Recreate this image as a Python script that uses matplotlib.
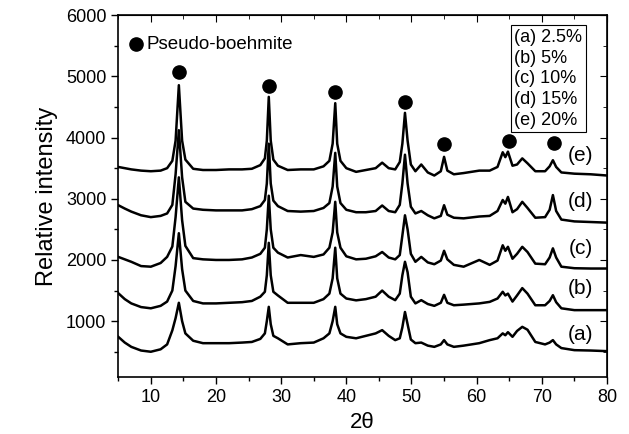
import matplotlib
matplotlib.use("Agg")
import matplotlib.pyplot as plt
from matplotlib.ticker import MultipleLocator

plt.rcParams['font.family'] = ['Liberation Sans', 'DejaVu Sans']

# 2theta sample points (shared by all five patterns)
two_theta = [5, 6, 7, 8.5, 10, 11.5, 12.5, 13.3, 13.8, 14.3, 14.8, 15.3, 16.5, 18, 20,
             22, 24, 25.5, 26.8, 27.5, 27.8, 28.1, 28.4, 28.8, 29.5, 31, 33, 35, 36.5,
             37.4, 37.9, 38.3, 38.6, 39.1, 40, 41.5, 43, 44.5, 45.5, 46.5, 47.5, 48.2,
             48.6, 49.0, 49.4, 49.9, 50.6, 51.5, 52.5, 53.5, 54.5, 55.0, 55.5, 56.5, 58,
             60.4, 62, 63.2, 64.0, 64.4, 64.8, 65.5, 66.2, 67.0, 67.8, 69, 70.5, 71.2,
             71.7, 72.2, 73, 75, 77.5, 80]

int_e = [3520, 3500, 3480, 3460, 3450, 3460, 3500, 3620, 3950, 4856, 3950, 3640, 3490, 3470, 3470,
         3480, 3480, 3490, 3550, 3660, 3950, 4665, 3950, 3640, 3540, 3470, 3480, 3480, 3530,
         3620, 3900, 4562, 3900, 3620, 3500, 3440, 3470, 3500, 3590, 3500, 3480, 3600,
         3900, 4404, 3950, 3560, 3450, 3560, 3430, 3380, 3450, 3685, 3460, 3400, 3420,
         3460, 3460, 3520, 3760, 3680, 3770, 3540, 3560, 3660, 3580, 3450, 3450, 3530,
         3630, 3520, 3430, 3410, 3400, 3380]

int_d = [2895, 2840, 2790, 2730, 2700, 2720, 2760, 2900, 3400, 4120, 3350, 2950, 2840, 2820, 2810,
         2810, 2810, 2830, 2880, 2980, 3250, 3900, 3250, 2970, 2880, 2800, 2790, 2800, 2850,
         2930, 3200, 3750, 3200, 2930, 2820, 2780, 2780, 2800, 2890, 2800, 2780, 2900,
         3250, 3720, 3250, 2870, 2760, 2800, 2730, 2680, 2720, 2895, 2740, 2690, 2680,
         2710, 2720, 2800, 2980, 2920, 3030, 2780, 2830, 2950, 2850, 2690, 2700, 2820,
         3060, 2800, 2660, 2630, 2620, 2610]

int_c = [2050, 2010, 1970, 1900, 1890, 1950, 2050, 2220, 2700, 3350, 2650, 2230, 2030, 2010, 2000,
         2000, 2010, 2040, 2100, 2200, 2500, 3050, 2500, 2200, 2120, 2040, 2080, 2050, 2090,
         2200, 2450, 2950, 2450, 2200, 2060, 2010, 2020, 2060, 2130, 2040, 2010, 2080,
         2400, 2730, 2500, 2100, 1970, 2050, 1960, 1930, 1990, 2150, 2010, 1920, 1890,
         2000, 1920, 1990, 2240, 2150, 2215, 2020, 2100, 2215, 2130, 1940, 1930, 2040,
         2190, 2040, 1890, 1865, 1860, 1860]

int_b = [1457, 1360, 1290, 1230, 1210, 1250, 1320, 1500, 1900, 2437, 1850, 1500, 1330, 1290, 1290,
         1300, 1310, 1330, 1400, 1480, 1750, 2280, 1750, 1480, 1420, 1300, 1300, 1300, 1360,
         1450, 1700, 2200, 1700, 1450, 1370, 1340, 1360, 1400, 1500, 1400, 1343, 1450,
         1750, 1970, 1800, 1400, 1290, 1343, 1280, 1250, 1300, 1430, 1300, 1260, 1270,
         1290, 1315, 1370, 1480, 1420, 1450, 1320, 1420, 1540, 1450, 1260, 1260, 1330,
         1424, 1310, 1210, 1180, 1180, 1180]

int_a = [744, 650, 580, 520, 500, 540, 620, 850, 1050, 1300, 1000, 800, 680, 640, 640,
         640, 650, 660, 710, 800, 1000, 1234, 950, 760, 720, 620, 640, 650, 720,
         800, 1000, 1234, 950, 800, 744, 720, 760, 800, 853, 760, 690, 720,
         900, 1150, 950, 700, 640, 650, 600, 580, 620, 690, 620, 580, 600,
         640, 690, 720, 800, 770, 820, 744, 840, 907, 860, 660, 620, 650,
         690, 620, 560, 526, 520, 510]

curves = [int_a, int_b, int_c, int_d, int_e]
curve_labels = ['(a)', '(b)', '(c)', '(d)', '(e)']
label_y = [790, 1540, 2190, 2950, 3712]

# pseudo-boehmite reflections marked with dots
dot_x = [14.3, 28.1, 38.2, 49.0, 55.0, 65.0, 71.8]
dot_y = [5070, 4840, 4740, 4585, 3892, 3945, 3913]

legend_lines = ['(a) 2.5%', '(b) 5%', '(c) 10%', '(d) 15%', '(e) 20%']

fig = plt.figure(figsize=(6.29, 4.34), dpi=100)
ax = fig.add_axes([0.188, 0.131, 0.777, 0.834])

for y in curves:
    ax.plot(two_theta, y, color='black', lw=1.8)

for lab, ly in zip(curve_labels, label_y):
    ax.text(76.0, ly, lab, fontsize=15, ha='center', va='center')

ax.plot(dot_x, dot_y, 'o', color='black', ms=9.5)
ax.plot([7.7], [5526], 'o', color='black', ms=9.5)
ax.text(9.3, 5526, 'Pseudo-boehmite', fontsize=13.5, va='center')

ax.text(0.81, 0.962, '\n'.join(legend_lines), transform=ax.transAxes,
        fontsize=13, va='top', ha='left', linespacing=1.28,
        bbox=dict(boxstyle='square,pad=0.2', fc='white', ec='black', lw=0.8))

ax.set_xlim(5, 80)
ax.set_ylim(85, 6000)
ax.xaxis.set_major_locator(MultipleLocator(10))
ax.xaxis.set_minor_locator(MultipleLocator(5))
ax.yaxis.set_major_locator(MultipleLocator(1000))
ax.yaxis.set_minor_locator(MultipleLocator(500))
ax.tick_params(which='both', direction='out', labelsize=13, width=1)
ax.tick_params(which='major', length=5)
ax.tick_params(which='minor', length=3)
ax.set_yticks([1000, 2000, 3000, 4000, 5000, 6000])

top = ax.secondary_xaxis('top')
top.xaxis.set_major_locator(MultipleLocator(10))
top.xaxis.set_minor_locator(MultipleLocator(5))
top.tick_params(which='both', direction='in', labeltop=False)
top.tick_params(which='major', length=5)
top.tick_params(which='minor', length=3)
right = ax.secondary_yaxis('right')
right.yaxis.set_major_locator(MultipleLocator(1000))
right.yaxis.set_minor_locator(MultipleLocator(500))
right.tick_params(which='both', direction='in', labelright=False)
right.tick_params(which='major', length=5)
right.tick_params(which='minor', length=3)

for sp in ax.spines.values():
    sp.set_linewidth(1.2)

ax.set_xlabel('2θ', fontsize=16, labelpad=4)
ax.set_ylabel('Relative intensity', fontsize=17, labelpad=6)

fig.savefig('out.png', dpi=100)
